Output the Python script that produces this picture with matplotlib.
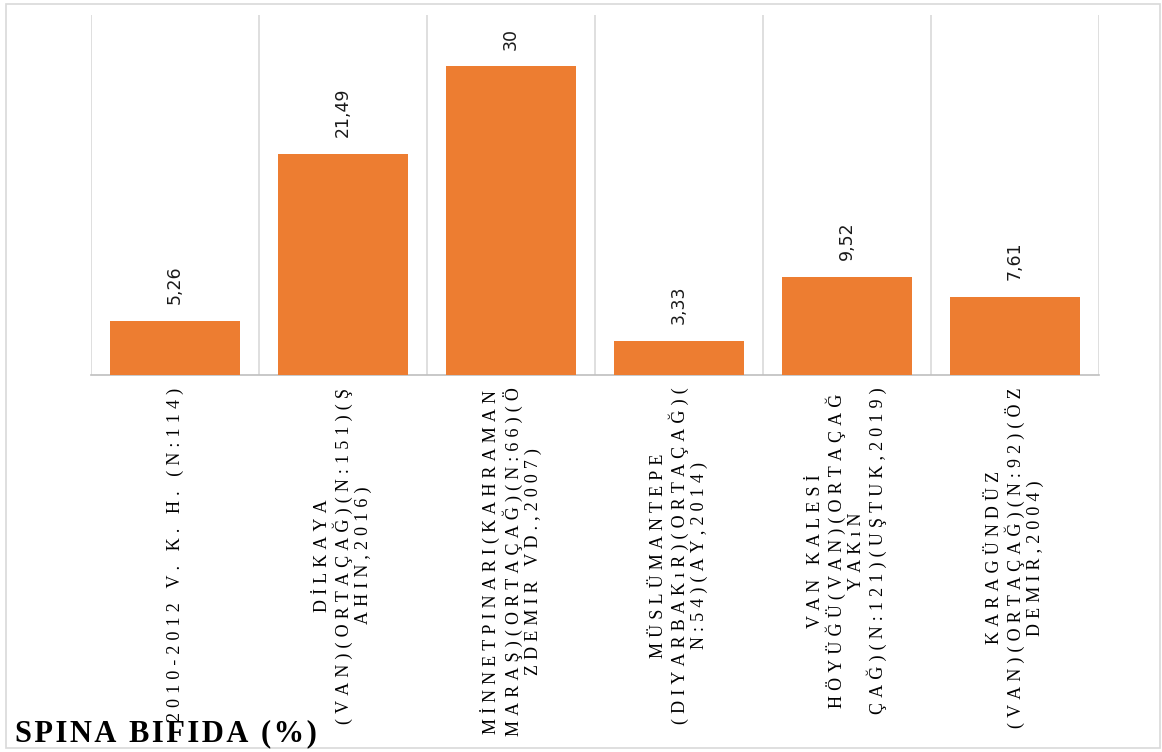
import matplotlib
matplotlib.use("Agg")
import matplotlib.pyplot as plt
from matplotlib.patches import Rectangle

# Spina bifida frequency by site
categories = [
    "2010-2012 V. K. H. (N:114)",
    "DİLKAYA\n(VAN)(ORTAÇAĞ)(N:151)(Ş\nAHIN,2016)",
    "MİNNETPINARI(KAHRAMAN\nMARAŞ)(ORTAÇAĞ)(N:66)(Ö\nZDEMIR VD.,2007)",
    "MÜSLÜMANTEPE\n(DIYARBAKıR)(ORTAÇAĞ)(\nN:54)(AY,2014)",
    "VAN KALESİ\nHÖYÜĞÜ(VAN)(ORTAÇAĞ\nYAKıN\nÇAĞ)(N:121)(UŞTUK,2019)",
    "KARAGÜNDÜZ\n(VAN)(ORTAÇAĞ)(N:92)(ÖZ\nDEMIR,2004)",
]
values = [5.26, 21.49, 30, 3.33, 9.52, 7.61]
title = "SPINA BIFIDA (%)"

ORANGE = "#ED7D31"
GRID = "#d9d9d9"
SERIF = ["Liberation Serif", "DejaVu Serif"]


def spaced(text, sep="\u2009\u200a"):
    # loose letter spacing, line by line
    return "\n".join(sep.join(line) for line in text.split("\n"))


fig = plt.figure(figsize=(11.62, 7.52), dpi=100)
fig.patches.append(Rectangle((0.005, 0.005), 0.993, 0.99, transform=fig.transFigure,
                             fill=False, edgecolor=GRID, linewidth=1.2))

ax = fig.add_axes([0.0783, 0.5013, 0.8675, 0.4787])
x = list(range(len(values)))
ax.bar(x, values, width=0.77, color=ORANGE, zorder=3)

ax.set_xlim(-0.5, len(values) - 0.5)
ax.set_ylim(0, 35)
ax.set_yticks([])

# vertical separators between categories
for b in range(len(values) + 1):
    ax.axvline(b - 0.5, color=GRID, linewidth=1.2, zorder=1)

for s in ["top", "right", "left"]:
    ax.spines[s].set_visible(False)
ax.spines["bottom"].set_color("#bfbfbf")
ax.spines["bottom"].set_linewidth(1.2)

ax.set_xticks(x)
ax.set_xticklabels([spaced(c) for c in categories], rotation=90, ha="center",
                   va="top", multialignment="center", fontsize=13,
                   family=SERIF, linespacing=1.12)
ax.tick_params(axis="x", length=0, pad=9)

for xi, v in zip(x, values):
    ax.annotate(f"{v:g}".replace(".", ","), (xi, v), xytext=(0, 12),
                textcoords="offset points", rotation=90, ha="center",
                va="bottom", fontsize=12.5, color="#1a1a1a")

fig.text(0.013, 0.0146, spaced(title, "\u200a"), fontsize=22, fontweight="bold",
         family=SERIF, ha="left", va="baseline")

fig.savefig("out.png", dpi=100)
